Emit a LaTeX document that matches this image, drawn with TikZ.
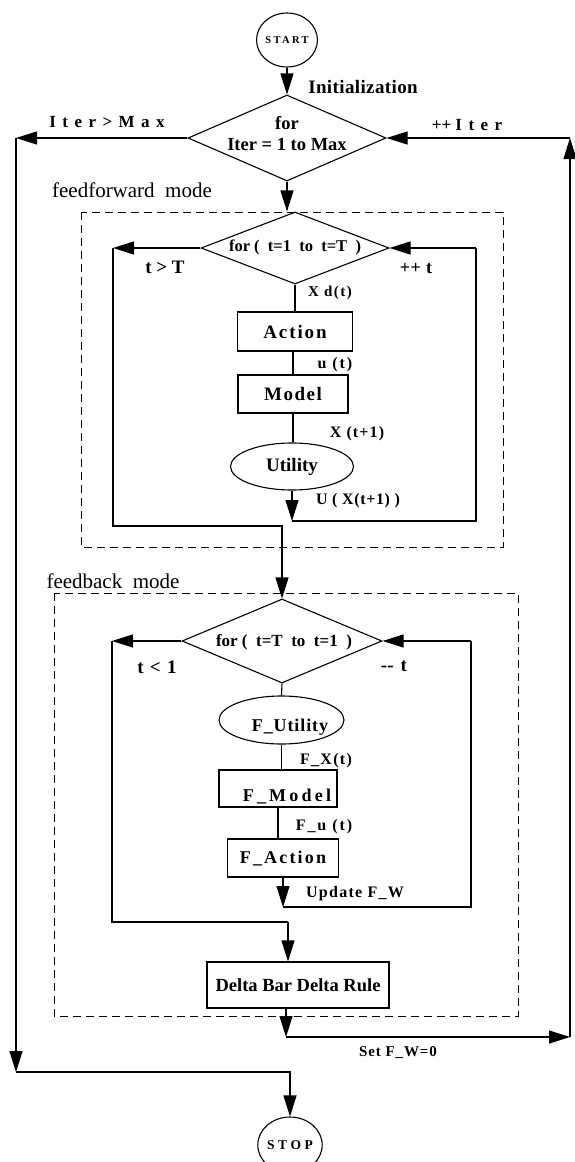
\documentclass[tikz,border=0pt]{standalone}
\usepackage{fontspec}
\setmainfont{Liberation Serif}
\usetikzlibrary{shapes.geometric,arrows.meta}
\newcommand{\myfs}[2]{\fontsize{#1}{#2}\selectfont}
\newcommand{\myls}[1]{\addfontfeature{LetterSpace=#1}}
\begin{document}
\begin{tikzpicture}[x=1pt,y=-1pt,line width=1.1pt,
  arr/.style={-{Triangle[length=21pt,width=13pt]}},
  box/.style={draw,rectangle,inner sep=0pt},
  oval/.style={draw,ellipse,inner sep=0pt},
  dia/.style={draw,diamond,inner sep=0pt},
  dbox/.style={line width=1pt,dash pattern=on 8pt off 5pt},
  txt/.style n args={2}{inner sep=0pt,font={\bfseries\myfs{#1}{20}\myls{#2}}},
  rtxt/.style={inner sep=0pt,font={\myfs{21}{24}}}]
\path[use as bounding box,fill=white] (0,0) rectangle (575,1162);

% ---------- top ----------
\node[oval,minimum width=60pt,minimum height=54pt,txt={10.5}{22}] (start) at (287,40) {START};
\node[dia,minimum width=198pt,minimum height=86pt] (d1) at (287,138) {};
\node[inner sep=0pt,align=center,font={\bfseries\myfs{18.5}{21}}] (d1t) at (287,134) {for\\Iter = 1 to Max};
\node[txt={19}{2}] (init) at (363,87) {Initialization};
\node[txt={17}{38}] (itermax) at (107,122) {Iter>Max};
\node[txt={17}{0}] (incit) at (467,125) {++ {\myls{38}Iter}};

% ---------- feedforward ----------
\node[rtxt] (ffm) at (132,190) {feedforward\ \ mode};
\draw[dbox] (81,212) rectangle (503,547);
\node[dia,minimum width=188pt,minimum height=72pt] (d2) at (295,248) {};
\node[txt={16.5}{0}] (d2t) at (295,247) {for (\ \ t=1\ \ to\ \ t=T\ \ )};
\node[txt={19}{0}] (tgt) at (165,267) {t > T};
\node[txt={18}{3}] (inct) at (416,268) {++ t};
\node[txt={15}{10}] (xd) at (330,293) {X d(t)};
\node[box,minimum width=115pt,minimum height=39pt,txt={19}{10}] (action) at (295,331.5) {Action};
\node[txt={16}{12}] (ut) at (335,365) {u (t)};
\node[box,minimum width=110pt,minimum height=38pt,txt={19}{8}] (model) at (293,394) {Model};
\node[txt={16}{7}] (xt1) at (357,434) {X (t+1)};
\node[oval,minimum width=123pt,minimum height=47pt,txt={19}{0}] (util) at (292,466.5) {Utility};
\node[txt={16}{4}] (uxt) at (358,501) {U ( X(t+1) )};

% ---------- feedback ----------
\node[rtxt] (fbm) at (113,581) {feedback\ \ mode};
\draw[dbox] (54,593) rectangle (518,1016);
\node[dia,minimum width=200pt,minimum height=84pt] (d3) at (282,641) {};
\node[txt={17}{0}] (d3t) at (284,642) {for (\ \ t=T\ \ to\ \ t=1\ \ )};
\node[txt={19}{8}] (tlt) at (157,667) {t < 1};
\node[txt={19}{12}] (dect) at (394,666) {\mbox{-}\mbox{-} t};
\node[oval,minimum width=125pt,minimum height=48pt] (futil) at (281.5,720) {};
\node[txt={18}{5}] (futilt) at (290,727) {F\_Utility};
\node[txt={16}{8}] (fx) at (326,761) {F\_X(t)};
\node[box,minimum width=118pt,minimum height=37pt] (fmodel) at (278,788.5) {};
\node[txt={18}{18}] (fmodelt) at (287,796) {F\_Model};
\node[txt={16}{12}] (fu) at (324,827) {F\_u (t)};
\node[box,minimum width=111pt,minimum height=38pt,txt={18}{12}] (faction) at (283,858) {F\_Action};
\node[txt={16}{8}] (upd) at (355,894) {Update F\_W};
\node[box,minimum width=182pt,minimum height=46pt,txt={18.5}{0}] (delta) at (298,985) {Delta Bar Delta Rule};
\node[txt={15}{6}] (setw) at (398,1053) {Set F\_W=0};
\node[oval,minimum width=58pt,minimum height=56pt,txt={13.5}{26}] (stop) at (290,1145) {STOP};

% ---------- coordinates ----------
\coordinate (cL1) at (16,138);
\coordinate (cL2) at (16,1072);
\coordinate (cR1) at (570,138);
\coordinate (cR2) at (570,1037);
\coordinate (cD) at (286,1037);
\coordinate (cA) at (113,248);
\coordinate (cB) at (282,526);
\coordinate (cU) at (292,521);
\coordinate (cV) at (476,248);
\coordinate (cC) at (112,641);
\coordinate (cE) at (288,922);
\coordinate (cF) at (283,907);
\coordinate (cW) at (471,641);

% ---------- connectors ----------
\draw[arr] (start.south) -- (d1.north);
\draw[arr] (d1.west) -- (cL1);
\draw[arr] (cL1) -- (cL2);
\draw[arr] (cL2) -| (stop.north);
\draw[arr] (cR2) -- (cR1);
\draw[arr] (cR1) -- (d1.east);
\draw[arr] (d1.south) -- (d1.south |- d2.north);
\draw[arr] (d2.west) -- (cA);
\draw[arr] (cA) |- (cB) -- (d3.north);
\draw (d2.south) -- (action.north);
\draw (model.north |- action.south) -- (model.north);
\draw (model.south) -- (model.south |- util.north);
\draw[arr] (util.south) -- (cU);
\draw (cU) -| (cV);
\draw[arr] (cV) -- (d2.east);
\draw[arr] (d3.west) -- (cC);
\draw (cC) |- (cE);
\draw[arr] (cE) -- (cE |- delta.north);
\draw (d3.south) -- (futil.north);
\draw (futil.south) -- (futil.south |- fmodel.north);
\draw (fmodel.south) -- (fmodel.south |- faction.north);
\draw[arr] (faction.south) -- (cF);
\draw (cF) -| (cW);
\draw[arr] (cW) -- (d3.east);
\draw[arr] (cD |- delta.south) -- (cD);
\draw[arr] (cD) -- (cR2);
\end{tikzpicture}
\end{document}
